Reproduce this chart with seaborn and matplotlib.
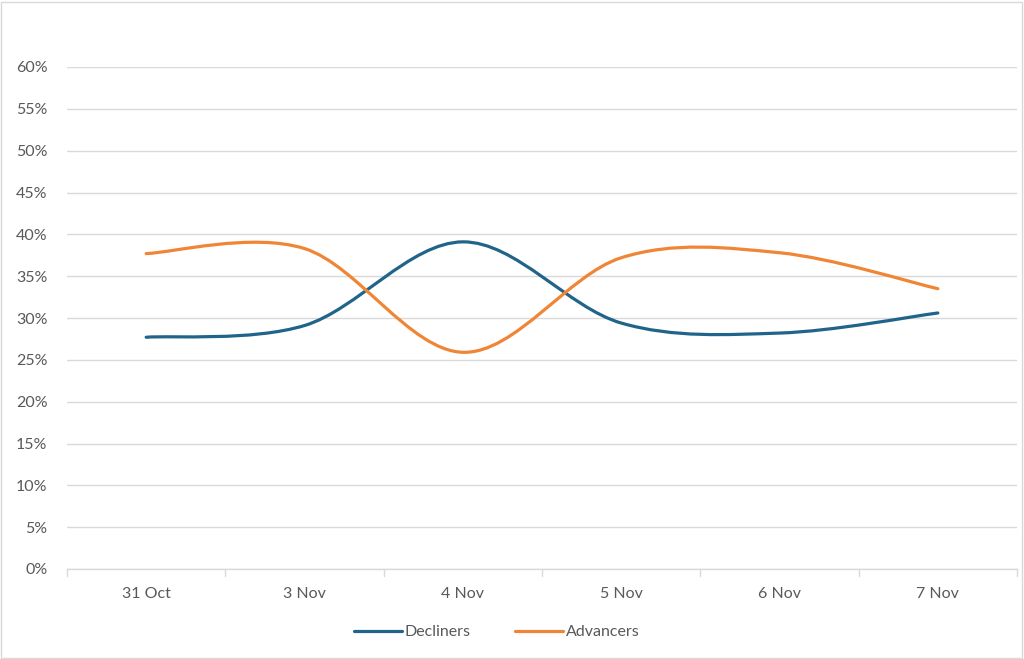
import numpy as np
import pandas as pd
import matplotlib
matplotlib.use("Agg")
import matplotlib.pyplot as plt
import seaborn as sns
from matplotlib.path import Path
from matplotlib.patches import PathPatch, Rectangle
from matplotlib.lines import Line2D
from matplotlib.ticker import PercentFormatter, MultipleLocator

dates = ["31 Oct", "3 Nov", "4 Nov", "5 Nov", "6 Nov", "7 Nov"]
decliners = [27.7, 29.1, 39.1, 29.4, 28.2, 30.6]
advancers = [37.7, 38.3, 25.9, 37.2, 37.8, 33.5]

colors = {"Decliners": "#21648A", "Advancers": "#F08535"}
text_grey = "#595959"

df = pd.DataFrame({"date": dates * 2,
                   "value": decliners + advancers,
                   "series": ["Decliners"] * len(dates) + ["Advancers"] * len(dates)})

sns.set_style("white")
plt.rcParams["font.family"] = ["Lato", "DejaVu Sans"]

fig = plt.figure(figsize=(10.24, 6.59), dpi=100)
ax = fig.add_axes([67 / 1024, 1 - 569 / 659, 950 / 1024, 502 / 659])


def smooth_path(xs, ys, t=1 / 6):
    # Excel-style smoothed line: cubic Bezier, Catmull-Rom control points
    pts = np.column_stack([xs, ys]).astype(float)
    n = len(pts)
    verts = [pts[0]]
    codes = [Path.MOVETO]
    for i in range(n - 1):
        p0 = pts[max(i - 1, 0)]
        p1 = pts[i]
        p2 = pts[i + 1]
        p3 = pts[min(i + 2, n - 1)]
        verts += [p1 + (p2 - p0) * t, p2 - (p3 - p1) * t, p2]
        codes += [Path.CURVE4] * 3
    return Path(verts, codes)


cat_pos = {d: i for i, d in enumerate(dates)}
for name, grp in df.groupby("series", sort=False):
    xs = grp["date"].map(cat_pos).to_numpy()
    patch = PathPatch(smooth_path(xs, grp["value"].to_numpy()), facecolor="none",
                      edgecolor=colors[name], lw=2.3, capstyle="round", zorder=3)
    ax.add_patch(patch)

ax.set_xlim(-0.5, len(dates) - 0.5)
ax.set_ylim(0, 60)
ax.yaxis.set_major_locator(MultipleLocator(5))
ax.yaxis.set_major_formatter(PercentFormatter(decimals=0))
ax.set_xticks(range(len(dates)))
ax.set_xticklabels(dates)
ax.grid(axis="y", color="#D9D9D9", lw=1)
ax.set_axisbelow(True)

for s in ["top", "right", "left"]:
    ax.spines[s].set_visible(False)
ax.spines["bottom"].set_color("#D9D9D9")
ax.spines["bottom"].set_linewidth(1)

# category boundary ticks
for b in np.arange(-0.5, len(dates), 1.0):
    ax.plot([b, b], [0, -0.85], color="#D9D9D9", lw=1, clip_on=False)

ax.tick_params(axis="x", length=0, pad=13, labelsize=11.5, labelcolor=text_grey)
ax.tick_params(axis="y", length=0, pad=14, labelsize=11.5, labelcolor=text_grey)
for lbl in ax.get_yticklabels():
    lbl.set_horizontalalignment("right")

handles = [Line2D([], [], color=colors[n], lw=2.3) for n in ["Decliners", "Advancers"]]
fig.legend(handles, ["Decliners", "Advancers"], loc="center",
           bbox_to_anchor=(497 / 1024, 1 - 632 / 659), ncol=2, frameon=False,
           fontsize=11.5, labelcolor=text_grey, handlelength=3.0,
           handletextpad=0.15, columnspacing=2.8)

fig.add_artist(Rectangle((1 / 1024, 1 / 659), 1021 / 1024, 656 / 659,
                         transform=fig.transFigure, fill=False,
                         edgecolor="#D9D9D9", lw=1))

fig.savefig("out.png", dpi=100)
